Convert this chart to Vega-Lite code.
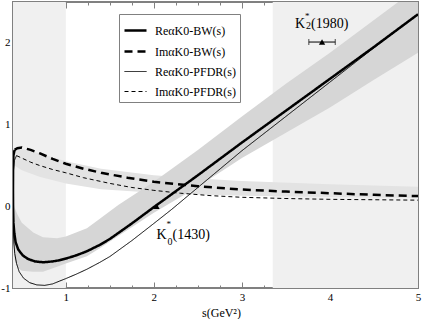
{
  "$schema": "https://vega.github.io/schema/vega-lite/v6.json",
  "width": 405,
  "height": 286,
  "autosize": {"type": "none"},
  "padding": {"left": 13, "top": 2, "right": 4, "bottom": 31},
  "background": "white",
  "config": {
    "font": "Liberation Serif",
    "view": {"stroke": "#808080", "strokeWidth": 2},
    "axis": {"domain": false, "grid": false, "zindex": 1, "tickColor": "#808080", "tickWidth": 1, "labelColor": "black", "labelFont": "Liberation Serif", "titleFont": "Liberation Serif", "titleFontWeight": "normal", "titleColor": "black"}
  },
  "datasets": {
    "curves": [
      {"k": "ReαK0-BW(s)", "i": 0, "s": 0.418, "v": 0.69},
      {"k": "ReαK0-BW(s)", "i": 1, "s": 0.405, "v": 0.62},
      {"k": "ReαK0-BW(s)", "i": 2, "s": 0.401, "v": 0.45},
      {"k": "ReαK0-BW(s)", "i": 3, "s": 0.400, "v": 0.20},
      {"k": "ReαK0-BW(s)", "i": 4, "s": 0.401, "v": -0.02},
      {"k": "ReαK0-BW(s)", "i": 5, "s": 0.405, "v": -0.20},
      {"k": "ReαK0-BW(s)", "i": 6, "s": 0.415, "v": -0.33},
      {"k": "ReαK0-BW(s)", "i": 7, "s": 0.43, "v": -0.44},
      {"k": "ReαK0-BW(s)", "i": 8, "s": 0.46, "v": -0.53},
      {"k": "ReαK0-BW(s)", "i": 9, "s": 0.51, "v": -0.60},
      {"k": "ReαK0-BW(s)", "i": 10, "s": 0.57, "v": -0.645},
      {"k": "ReαK0-BW(s)", "i": 11, "s": 0.65, "v": -0.675},
      {"k": "ReαK0-BW(s)", "i": 12, "s": 0.74, "v": -0.685},
      {"k": "ReαK0-BW(s)", "i": 13, "s": 0.85, "v": -0.675},
      {"k": "ReαK0-BW(s)", "i": 14, "s": 0.93, "v": -0.66},
      {"k": "ReαK0-BW(s)", "i": 15, "s": 1.0, "v": -0.64},
      {"k": "ReαK0-BW(s)", "i": 16, "s": 1.12, "v": -0.60},
      {"k": "ReαK0-BW(s)", "i": 17, "s": 1.24, "v": -0.55},
      {"k": "ReαK0-BW(s)", "i": 18, "s": 1.39, "v": -0.47},
      {"k": "ReαK0-BW(s)", "i": 19, "s": 1.5, "v": -0.40},
      {"k": "ReαK0-BW(s)", "i": 20, "s": 1.75, "v": -0.21},
      {"k": "ReαK0-BW(s)", "i": 21, "s": 2.0, "v": -0.01},
      {"k": "ReαK0-BW(s)", "i": 22, "s": 2.5, "v": 0.38},
      {"k": "ReαK0-BW(s)", "i": 23, "s": 3.0, "v": 0.78},
      {"k": "ReαK0-BW(s)", "i": 24, "s": 3.5, "v": 1.17},
      {"k": "ReαK0-BW(s)", "i": 25, "s": 4.0, "v": 1.56},
      {"k": "ReαK0-BW(s)", "i": 26, "s": 4.5, "v": 1.95},
      {"k": "ReαK0-BW(s)", "i": 27, "s": 5.0, "v": 2.35},

      {"k": "ImαK0-BW(s)", "i": 0, "s": 0.418, "v": 0.69},
      {"k": "ImαK0-BW(s)", "i": 1, "s": 0.45, "v": 0.71},
      {"k": "ImαK0-BW(s)", "i": 2, "s": 0.5, "v": 0.72},
      {"k": "ImαK0-BW(s)", "i": 3, "s": 0.6, "v": 0.69},
      {"k": "ImαK0-BW(s)", "i": 4, "s": 0.7, "v": 0.65},
      {"k": "ImαK0-BW(s)", "i": 5, "s": 0.85, "v": 0.58},
      {"k": "ImαK0-BW(s)", "i": 6, "s": 1.0, "v": 0.52},
      {"k": "ImαK0-BW(s)", "i": 7, "s": 1.2, "v": 0.46},
      {"k": "ImαK0-BW(s)", "i": 8, "s": 1.4, "v": 0.41},
      {"k": "ImαK0-BW(s)", "i": 9, "s": 1.7, "v": 0.35},
      {"k": "ImαK0-BW(s)", "i": 10, "s": 2.0, "v": 0.30},
      {"k": "ImαK0-BW(s)", "i": 11, "s": 2.5, "v": 0.245},
      {"k": "ImαK0-BW(s)", "i": 12, "s": 3.0, "v": 0.205},
      {"k": "ImαK0-BW(s)", "i": 13, "s": 3.5, "v": 0.18},
      {"k": "ImαK0-BW(s)", "i": 14, "s": 4.0, "v": 0.16},
      {"k": "ImαK0-BW(s)", "i": 15, "s": 4.5, "v": 0.14},
      {"k": "ImαK0-BW(s)", "i": 16, "s": 5.0, "v": 0.125},

      {"k": "ReαK0-PFDR(s)", "i": 0, "s": 0.44, "v": 0.62},
      {"k": "ReαK0-PFDR(s)", "i": 1, "s": 0.415, "v": 0.56},
      {"k": "ReαK0-PFDR(s)", "i": 2, "s": 0.404, "v": 0.42},
      {"k": "ReαK0-PFDR(s)", "i": 3, "s": 0.401, "v": 0.15},
      {"k": "ReαK0-PFDR(s)", "i": 4, "s": 0.402, "v": -0.10},
      {"k": "ReαK0-PFDR(s)", "i": 5, "s": 0.405, "v": -0.30},
      {"k": "ReαK0-PFDR(s)", "i": 6, "s": 0.41, "v": -0.45},
      {"k": "ReαK0-PFDR(s)", "i": 7, "s": 0.42, "v": -0.58},
      {"k": "ReαK0-PFDR(s)", "i": 8, "s": 0.44, "v": -0.70},
      {"k": "ReαK0-PFDR(s)", "i": 9, "s": 0.47, "v": -0.80},
      {"k": "ReαK0-PFDR(s)", "i": 10, "s": 0.52, "v": -0.88},
      {"k": "ReαK0-PFDR(s)", "i": 11, "s": 0.59, "v": -0.935},
      {"k": "ReαK0-PFDR(s)", "i": 12, "s": 0.67, "v": -0.962},
      {"k": "ReαK0-PFDR(s)", "i": 13, "s": 0.76, "v": -0.968},
      {"k": "ReαK0-PFDR(s)", "i": 14, "s": 0.85, "v": -0.95},
      {"k": "ReαK0-PFDR(s)", "i": 15, "s": 0.93, "v": -0.915},
      {"k": "ReαK0-PFDR(s)", "i": 16, "s": 1.0, "v": -0.885},
      {"k": "ReαK0-PFDR(s)", "i": 17, "s": 1.12, "v": -0.83},
      {"k": "ReαK0-PFDR(s)", "i": 18, "s": 1.24, "v": -0.77},
      {"k": "ReαK0-PFDR(s)", "i": 19, "s": 1.38, "v": -0.69},
      {"k": "ReαK0-PFDR(s)", "i": 20, "s": 1.5, "v": -0.615},
      {"k": "ReαK0-PFDR(s)", "i": 21, "s": 1.75, "v": -0.42},
      {"k": "ReαK0-PFDR(s)", "i": 22, "s": 2.0, "v": -0.21},
      {"k": "ReαK0-PFDR(s)", "i": 23, "s": 2.2, "v": -0.04},
      {"k": "ReαK0-PFDR(s)", "i": 24, "s": 2.4, "v": 0.14},
      {"k": "ReαK0-PFDR(s)", "i": 25, "s": 2.6, "v": 0.32},
      {"k": "ReαK0-PFDR(s)", "i": 26, "s": 2.8, "v": 0.50},
      {"k": "ReαK0-PFDR(s)", "i": 27, "s": 3.0, "v": 0.68},
      {"k": "ReαK0-PFDR(s)", "i": 28, "s": 3.5, "v": 1.10},
      {"k": "ReαK0-PFDR(s)", "i": 29, "s": 4.0, "v": 1.52},
      {"k": "ReαK0-PFDR(s)", "i": 30, "s": 4.5, "v": 1.94},
      {"k": "ReαK0-PFDR(s)", "i": 31, "s": 5.0, "v": 2.35},

      {"k": "ImαK0-PFDR(s)", "i": 0, "s": 0.44, "v": 0.62},
      {"k": "ImαK0-PFDR(s)", "i": 1, "s": 0.5, "v": 0.59},
      {"k": "ImαK0-PFDR(s)", "i": 2, "s": 0.6, "v": 0.54},
      {"k": "ImαK0-PFDR(s)", "i": 3, "s": 0.7, "v": 0.50},
      {"k": "ImαK0-PFDR(s)", "i": 4, "s": 0.85, "v": 0.45},
      {"k": "ImαK0-PFDR(s)", "i": 5, "s": 1.0, "v": 0.41},
      {"k": "ImαK0-PFDR(s)", "i": 6, "s": 1.2, "v": 0.35},
      {"k": "ImαK0-PFDR(s)", "i": 7, "s": 1.5, "v": 0.28},
      {"k": "ImαK0-PFDR(s)", "i": 8, "s": 1.75, "v": 0.23},
      {"k": "ImαK0-PFDR(s)", "i": 9, "s": 2.0, "v": 0.195},
      {"k": "ImαK0-PFDR(s)", "i": 10, "s": 2.3, "v": 0.16},
      {"k": "ImαK0-PFDR(s)", "i": 11, "s": 2.65, "v": 0.13},
      {"k": "ImαK0-PFDR(s)", "i": 12, "s": 3.0, "v": 0.11},
      {"k": "ImαK0-PFDR(s)", "i": 13, "s": 3.5, "v": 0.095},
      {"k": "ImαK0-PFDR(s)", "i": 14, "s": 4.0, "v": 0.085},
      {"k": "ImαK0-PFDR(s)", "i": 15, "s": 4.5, "v": 0.08},
      {"k": "ImαK0-PFDR(s)", "i": 16, "s": 5.0, "v": 0.075}
    ],
    "reband": [
      {"s": 0.405, "lo": -0.45, "hi": 0.05},
      {"s": 0.42, "lo": -0.65, "hi": -0.02},
      {"s": 0.45, "lo": -0.75, "hi": -0.10},
      {"s": 0.5, "lo": -0.79, "hi": -0.20},
      {"s": 0.63, "lo": -0.80, "hi": -0.32},
      {"s": 0.74, "lo": -0.80, "hi": -0.38},
      {"s": 0.9, "lo": -0.74, "hi": -0.39},
      {"s": 1.0, "lo": -0.70, "hi": -0.37},
      {"s": 1.24, "lo": -0.61, "hi": -0.27},
      {"s": 1.39, "lo": -0.51, "hi": -0.15},
      {"s": 1.6, "lo": -0.36, "hi": 0.02},
      {"s": 2.0, "lo": -0.08, "hi": 0.30},
      {"s": 2.5, "lo": 0.24, "hi": 0.69},
      {"s": 3.0, "lo": 0.59, "hi": 1.10},
      {"s": 3.5, "lo": 0.90, "hi": 1.50},
      {"s": 4.0, "lo": 1.21, "hi": 1.88},
      {"s": 4.5, "lo": 1.55, "hi": 2.28},
      {"s": 5.0, "lo": 1.88, "hi": 2.68}
    ],
    "imband": [
      {"s": 0.418, "lo": 0.50, "hi": 0.69},
      {"s": 0.5, "lo": 0.44, "hi": 0.70},
      {"s": 0.7, "lo": 0.36, "hi": 0.65},
      {"s": 1.0, "lo": 0.28, "hi": 0.55},
      {"s": 1.4, "lo": 0.21, "hi": 0.46},
      {"s": 2.0, "lo": 0.165, "hi": 0.38},
      {"s": 2.5, "lo": 0.145, "hi": 0.34},
      {"s": 3.0, "lo": 0.13, "hi": 0.31},
      {"s": 4.0, "lo": 0.115, "hi": 0.27},
      {"s": 5.0, "lo": 0.10, "hi": 0.24}
    ],
    "shade": [
      {"a": 0.4, "b": 1.0},
      {"a": 3.35, "b": 5.0}
    ],
    "res": [
      {"name": "K0", "s": 2.03, "v": 0.0, "sym": "K", "sup": "*", "sub": "0", "mass": "(1430)"},
      {"name": "K2", "s": 3.91, "v": 2.01, "lo": 3.76, "hi": 4.06, "sym": "K", "sup": "*", "sub": "2", "mass": "(1980)"}
    ]
  },
  "layer": [
    {
      "data": {"name": "shade"},
      "mark": {"type": "rect", "fill": "#f0f0f0"},
      "encoding": {
        "x": {"field": "a", "type": "quantitative", "scale": {"domain": [0.4, 5], "nice": false, "zero": false}, "axis": null},
        "x2": {"field": "b"}
      }
    },
    {
      "data": {"name": "imband"},
      "mark": {"type": "area", "fill": "#e3e3e3", "clip": true},
      "encoding": {
        "x": {"field": "s", "type": "quantitative", "axis": null},
        "y": {"field": "lo", "type": "quantitative", "scale": {"domain": [-1, 2.5], "nice": false, "zero": false}, "axis": null},
        "y2": {"field": "hi"}
      }
    },
    {
      "data": {"name": "reband"},
      "mark": {"type": "area", "fill": "#d6d6d6", "clip": true},
      "encoding": {
        "x": {"field": "s", "type": "quantitative", "axis": null},
        "y": {"field": "lo", "type": "quantitative", "axis": null},
        "y2": {"field": "hi"}
      }
    },
    {
      "data": {"name": "curves"},
      "mark": {"type": "line", "color": "black", "clip": true},
      "encoding": {
        "x": {"field": "s", "type": "quantitative", "axis": {
          "orient": "bottom",
          "values": [0.5, 0.75, 1, 1.25, 1.5, 1.75, 2, 2.25, 2.5, 2.75, 3, 3.25, 3.5, 3.75, 4, 4.25, 4.5, 4.75, 5],
          "labelExpr": "datum.value % 1 === 0 ? '' + datum.value : ''",
          "tickSize": {"condition": {"test": "datum.value % 1 === 0", "value": -6}, "value": -3},
          "labelFontSize": 11, "labelPadding": 9, "labelFlush": false,
          "title": "s(GeV²)", "titleFontSize": 12, "titlePadding": 5, "titleX": 208, "titleAlign": "center"
        }},
        "y": {"field": "v", "type": "quantitative", "axis": {
          "orient": "left",
          "values": [-1, -0.5, 0, 0.5, 1, 1.5, 2],
          "labelExpr": "datum.value % 1 === 0 ? '' + datum.value : ''",
          "tickSize": {"condition": {"test": "datum.value % 1 === 0", "value": -6}, "value": -3},
          "labelFontSize": 11, "labelPadding": 9, "labelFlush": false,
          "title": null
        }},
        "order": {"field": "i", "type": "quantitative"},
        "strokeDash": {"field": "k", "type": "nominal",
          "scale": {"domain": ["ReαK0-BW(s)", "ImαK0-BW(s)", "ReαK0-PFDR(s)", "ImαK0-PFDR(s)"], "range": [[1, 0], [8, 5], [1, 0], [4, 3]]},
          "legend": {"orient": "none", "legendX": 106, "legendY": 12, "title": null, "symbolType": "stroke", "symbolSize": 484, "symbolStrokeColor": "black", "labelFontSize": 12, "labelFont": "Liberation Serif", "labelColor": "black", "strokeColor": "#808080", "fillColor": "white", "padding": 4, "rowPadding": 2, "labelOffset": 7}
        },
        "strokeWidth": {"field": "k", "type": "nominal",
          "scale": {"type": "ordinal", "domain": ["ReαK0-BW(s)", "ImαK0-BW(s)", "ReαK0-PFDR(s)", "ImαK0-PFDR(s)"], "range": [2.5, 2.5, 1, 1]},
          "legend": {"orient": "none", "legendX": 106, "legendY": 12, "title": null, "symbolType": "stroke", "symbolSize": 484, "symbolStrokeColor": "black", "labelFontSize": 12, "labelFont": "Liberation Serif", "labelColor": "black", "strokeColor": "#808080", "fillColor": "white", "padding": 4, "rowPadding": 2, "labelOffset": 7}
        }
      }
    },
    {
      "data": {"name": "res"},
      "mark": {"type": "point", "opacity": 0},
      "encoding": {
        "x": {"field": "s", "type": "quantitative", "axis": {
          "orient": "top",
          "values": [0.5, 0.75, 1, 1.25, 1.5, 1.75, 2, 2.25, 2.5, 2.75, 3, 3.25, 3.5, 3.75, 4, 4.25, 4.5, 4.75, 5],
          "labels": false, "title": null,
          "tickSize": {"condition": {"test": "datum.value % 1 === 0", "value": -6}, "value": -3}
        }},
        "y": {"field": "v", "type": "quantitative", "axis": {
          "orient": "right",
          "values": [-0.5, 0, 0.5, 1, 1.5, 2],
          "labels": false, "title": null,
          "tickSize": {"condition": {"test": "datum.value % 1 === 0", "value": -6}, "value": -3}
        }}
      }
    },
    {
      "data": {"name": "res"},
      "transform": [{"filter": "datum.name === 'K2'"}],
      "mark": {"type": "errorbar", "ticks": {"size": 6, "color": "black"}, "color": "black", "thickness": 1},
      "encoding": {
        "x": {"field": "lo", "type": "quantitative", "axis": null},
        "x2": {"field": "hi"},
        "y": {"field": "v", "type": "quantitative", "axis": null}
      }
    },
    {
      "data": {"name": "res"},
      "mark": {"type": "point", "shape": "triangle-up", "filled": true, "color": "black", "size": 40, "opacity": 1},
      "encoding": {
        "x": {"field": "s", "type": "quantitative", "axis": null},
        "y": {"field": "v", "type": "quantitative", "axis": null}
      }
    },
    {
      "data": {"name": "res"},
      "transform": [{"filter": "datum.name === 'K0'"}],
      "layer": [
        {"mark": {"type": "text", "align": "left", "baseline": "alphabetic", "dx": 0, "dy": 33, "fontSize": 14, "color": "black"}, "encoding": {"text": {"field": "sym"}}},
        {"mark": {"type": "text", "align": "left", "baseline": "alphabetic", "dx": 10, "dy": 21, "fontSize": 9, "color": "black"}, "encoding": {"text": {"field": "sup"}}},
        {"mark": {"type": "text", "align": "left", "baseline": "alphabetic", "dx": 11, "dy": 39, "fontSize": 10, "color": "black"}, "encoding": {"text": {"field": "sub"}}},
        {"mark": {"type": "text", "align": "left", "baseline": "alphabetic", "dx": 16, "dy": 33, "fontSize": 14, "color": "black"}, "encoding": {"text": {"field": "mass"}}}
      ],
      "encoding": {
        "x": {"field": "s", "type": "quantitative", "axis": null},
        "y": {"field": "v", "type": "quantitative", "axis": null}
      }
    },
    {
      "data": {"name": "res"},
      "transform": [{"filter": "datum.name === 'K2'"}],
      "layer": [
        {"mark": {"type": "text", "align": "left", "baseline": "alphabetic", "dx": -27, "dy": -14, "fontSize": 14, "color": "black"}, "encoding": {"text": {"field": "sym"}}},
        {"mark": {"type": "text", "align": "left", "baseline": "alphabetic", "dx": -17, "dy": -23, "fontSize": 9, "color": "black"}, "encoding": {"text": {"field": "sup"}}},
        {"mark": {"type": "text", "align": "left", "baseline": "alphabetic", "dx": -16, "dy": -13, "fontSize": 10, "color": "black"}, "encoding": {"text": {"field": "sub"}}},
        {"mark": {"type": "text", "align": "left", "baseline": "alphabetic", "dx": -11, "dy": -14, "fontSize": 14, "color": "black"}, "encoding": {"text": {"field": "mass"}}}
      ],
      "encoding": {
        "x": {"field": "s", "type": "quantitative", "axis": null},
        "y": {"field": "v", "type": "quantitative", "axis": null}
      }
    }
  ],
  "resolve": {"axis": {"x": "independent", "y": "independent"}}
}
